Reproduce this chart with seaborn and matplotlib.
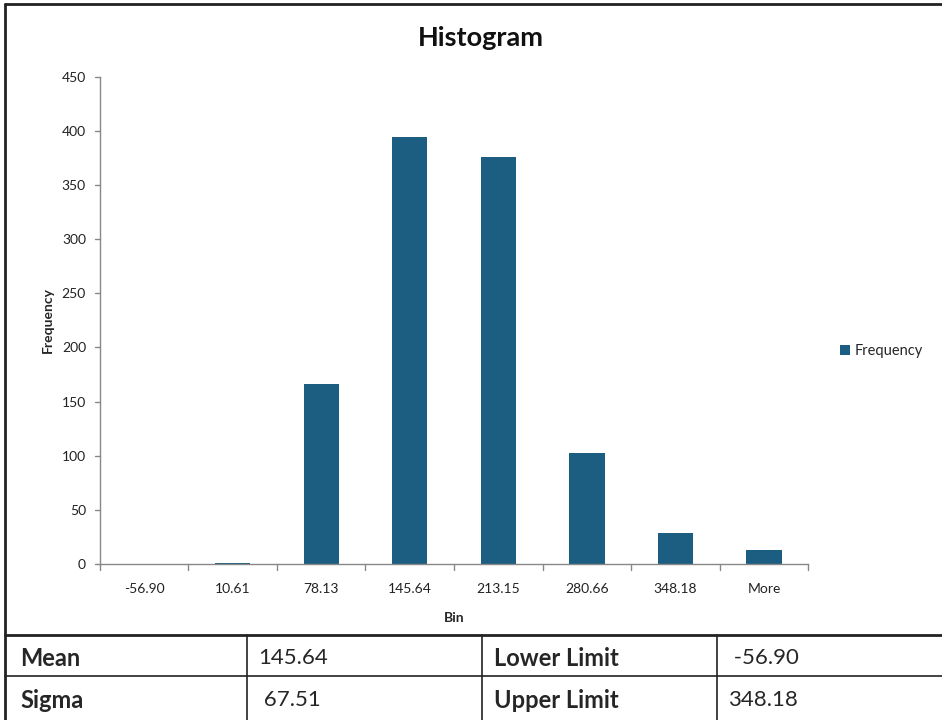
import pandas as pd
import matplotlib.pyplot as plt
import seaborn as sns
from matplotlib.lines import Line2D

# histogram data
bins = ['-56.90', '10.61', '78.13', '145.64', '213.15', '280.66', '348.18', 'More']
frequency = [0, 1, 166, 395, 376, 102, 28, 13]

# summary table
row_names = ['Mean', 'Sigma']
row_values = ['145.64', ' 67.51']
limit_names = ['Lower Limit', 'Upper Limit']
limit_values = [' -56.90', '348.18']

data = pd.DataFrame({'Bin': bins, 'Frequency': frequency})

sns.set_style('white')
plt.rcParams['font.family'] = ['Liberation Sans Narrow', 'Lato', 'DejaVu Sans']

fig = plt.figure(figsize=(9.42, 7.2), dpi=100)
ax = fig.add_axes([0.106, 0.217, 0.752, 0.676])

bar_color = '#1c5e82'
sns.barplot(x='Bin', y='Frequency', data=data, color=bar_color, width=0.4,
            saturation=1, linewidth=0, ax=ax, label='Frequency')

ax.set_ylim(0, 450)
ax.set_yticks(range(0, 451, 50))
ax.set_xlim(-0.5, len(bins) - 0.5)
ax.set_xticks(range(len(bins)))
ax.set_xticklabels(bins)
ax.tick_params(axis='y', labelsize=10, colors='#222222', length=0, pad=10)
ax.tick_params(axis='x', labelsize=10, colors='#222222', length=0, pad=14)

# tick marks between categories on x, and left ticks on y
for i in range(len(bins) + 1):
    ax.plot([i - 0.5, i - 0.5], [0, -6], color='#888888', lw=1, clip_on=False)
for v in range(0, 451, 50):
    ax.plot([-0.5, -0.5 - 0.06], [v, v], color='#888888', lw=1, clip_on=False)

for s in ['top', 'right']:
    ax.spines[s].set_visible(False)
for s in ['left', 'bottom']:
    ax.spines[s].set_color('#888888')
    ax.spines[s].set_linewidth(1)

ax.set_xlabel('Bin', fontsize=10, fontweight='bold', labelpad=12)
ax.set_ylabel('Frequency', fontsize=10, fontweight='bold', labelpad=6)

fig.text(0.51, 0.947, 'Histogram', ha='center', va='center',
         fontsize=19.5, fontweight='bold', color='#111111')

ax.legend(loc='center left', bbox_to_anchor=(0.878, 0.512), bbox_transform=fig.transFigure,
          frameon=False, fontsize=10.5, handlelength=0.7, handleheight=0.7,
          handletextpad=0.3)

# outer frame and table lines
def fline(x0, y0, x1, y1, lw=1.5):
    fig.add_artist(Line2D([x0 / 942, x1 / 942], [1 - y0 / 720, 1 - y1 / 720],
                          color='#222222', lw=lw, transform=fig.transFigure))

fline(5, 4, 942, 4, 2)
fline(5, 4, 5, 720, 2)
fline(5, 635, 942, 635, 2)
fline(5, 676, 942, 676, 1.2)
for xc in [247, 482, 717]:
    fline(xc, 635, xc, 720, 1.2)

for i in range(2):
    y = 1 - (658 + 42 * i) / 720
    fig.text(20 / 942, y, row_names[i], ha='left', va='center', fontsize=17, fontweight='bold')
    fig.text(258 / 942, y, row_values[i], ha='left', va='center', fontsize=16)
    fig.text(494 / 942, y, limit_names[i], ha='left', va='center', fontsize=17, fontweight='bold')
    fig.text(728 / 942, y, limit_values[i], ha='left', va='center', fontsize=16)

fig.savefig('out.png', dpi=100)
